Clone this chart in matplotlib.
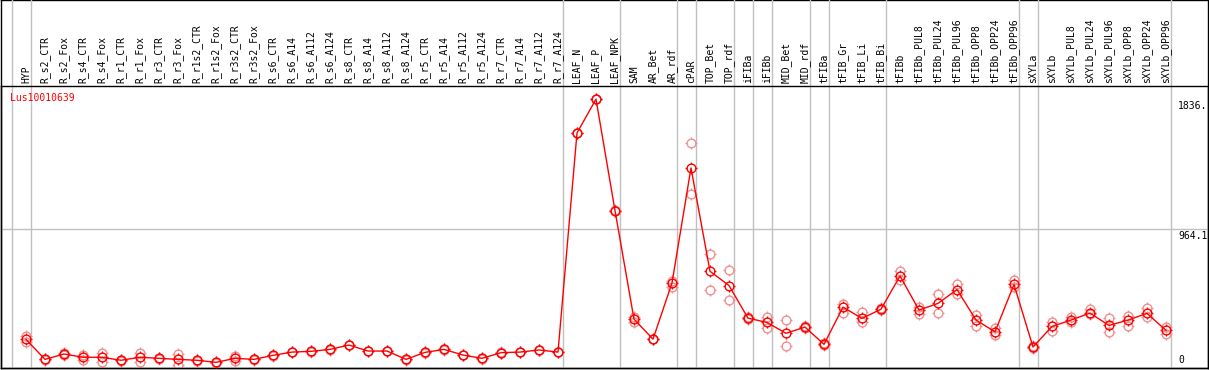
import numpy as np
import matplotlib
matplotlib.use("Agg")
import matplotlib.pyplot as plt
from matplotlib.path import Path
from matplotlib.markers import MarkerStyle

# sample names (x axis)
samples = ["HYP",
           "R_s2_CTR", "R_s2_Fox", "R_s4_CTR", "R_s4_Fox", "R_r1_CTR", "R_r1_Fox",
           "R_r3_CTR", "R_r3_Fox", "R_r1s2_CTR", "R_r1s2_Fox", "R_r3s2_CTR", "R_r3s2_Fox",
           "R_s6_CTR", "R_s6_A14", "R_s6_A112", "R_s6_A124", "R_s8_CTR", "R_s8_A14",
           "R_s8_A112", "R_s8_A124", "R_r5_CTR", "R_r5_A14", "R_r5_A112", "R_r5_A124",
           "R_r7_CTR", "R_r7_A14", "R_r7_A112", "R_r7_A124",
           "LEAF_N", "LEAF_P", "LEAF_NPK",
           "SAM", "AR_Bet", "AR_rdf",
           "cPAR",
           "TOP_Bet", "TOP_rdf",
           "iFIBa",
           "iFIBb",
           "MID_Bet", "MID_rdf",
           "tFIBa",
           "tFIB_Gr", "tFIB_Li", "tFIB_Bi",
           "tFIBb", "tFIBb_PUL8", "tFIBb_PUL24", "tFIBb_PUL96", "tFIBb_OPP8",
           "tFIBb_OPP24", "tFIBb_OPP96",
           "sXYLa",
           "sXYLb", "sXYLb_PUL8", "sXYLb_PUL24", "sXYLb_PUL96", "sXYLb_OPP8",
           "sXYLb_OPP24", "sXYLb_OPP96"]

# last sample index of each group (separator drawn after it), -1 = before first
group_ends = [-1, 0, 28, 31, 34, 35, 37, 38, 39, 41, 42, 45, 52, 53, 60]

# mean expression
means = [222,
         88, 124, 102, 102, 82, 102, 95, 88, 82, 68, 95, 88,
         115, 137, 142, 155, 184, 144, 144, 88, 135, 155, 117, 95,
         133, 137, 151, 137,
         1609, 1836, 1088,
         358, 224, 601,
         1374,
         680, 584,
         365,
         336,
         263, 305,
         189,
         439, 363, 425,
         648, 419, 464, 557, 352, 273, 591,
         171,
         309, 352, 399, 316, 352, 397, 283]

# replicate values
reps = [[246, 205],
        [92, 84], [128, 120], [117, 84], [129, 72], [84, 80], [129, 72],
        [97, 93], [124, 52], [84, 80], [70, 66], [111, 80], [90, 86],
        [117, 113], [139, 135], [144, 140], [157, 153], [186, 182], [146, 142],
        [146, 142], [90, 86], [137, 133], [157, 153], [119, 115], [97, 93],
        [135, 131], [139, 135], [153, 149], [139, 135],
        [1611, 1607], [1838, 1834], [1090, 1086],
        [374, 340], [226, 222], [613, 575],
        [1542, 1200],
        [798, 557], [685, 484],
        [370, 360],
        [374, 300],
        [352, 175], [312, 298],
        [195, 183],
        [463, 401], [403, 336], [430, 420],
        [682, 620], [441, 392], [530, 397], [591, 530], [385, 311],
        [296, 251], [620, 571],
        [175, 167],
        [340, 278], [370, 338], [423, 392], [363, 273], [378, 311],
        [430, 374], [303, 258]]

gene = "Lus10010639"
y_ticks = [0, 964.1, 1836]
y_tick_labels = ["0", "964.1", "1836."]

W, H = 1209, 370
fig = plt.figure(figsize=(W / 100, H / 100), dpi=100)

# outer frame
frame = fig.add_axes([1 / W, 2 / H, 1207 / W, 368 / H])
frame.set_xticks([])
frame.set_yticks([])
frame.patch.set_alpha(0)
for s in frame.spines.values():
    s.set_linewidth(1.0)
    s.set_color("black")

top_px, bot_px = 85.5, 368
ax = fig.add_axes([1 / W, (H - bot_px) / H, 1207 / W, (bot_px - top_px) / H])
ax.patch.set_alpha(0)
ax.set_xticks([])
ax.set_yticks([])
for s in ax.spines.values():
    s.set_linewidth(1.0)
    s.set_color("black")

# top of plot = 1.05 * max, middle gridline = half of that; zero falls just below the frame
ymax = max(means) * 1.05
ax.set_ylim(30, ymax)
x = np.arange(len(samples))
ax.set_xlim((1 - 26) / 19, (1208 - 26) / 19)

ext = (bot_px - 0) / (bot_px - top_px)
for g in group_ends:
    ax.axvline(g + 0.25, ymin=0, ymax=ext, color="#c0c0c0", lw=1, clip_on=False, zorder=0)
ax.axhline(y_ticks[1], color="#c0c0c0", lw=1, zorder=0)

# four small ticks around each circle
t = 1.3
ticks = MarkerStyle(Path([(0, 1), (0, t), (0, -1), (0, -t), (1, 0), (t, 0), (-1, 0), (-t, 0)],
                         [Path.MOVETO, Path.LINETO] * 4))

def marks(xs, ys, col, z):
    ax.plot(xs, ys, linestyle="none", marker="o", ms=6.3, mfc="none", mec=col,
            mew=1.0, zorder=z)
    ax.plot(xs, ys, linestyle="none", marker=ticks, ms=8.2, mfc="none", mec=col,
            mew=0.9, zorder=z)

for i, r in enumerate(reps):
    marks([i] * len(r), r, "#f09090", 2)
ax.plot(x, means, color="red", lw=1, zorder=3)
marks(x, means, "red", 4)

mono = "DejaVu Sans Mono"
xt = ax.get_xaxis_transform()
for i, lab in enumerate(samples):
    ax.text(i, 1.008, lab, transform=xt, rotation=90, ha="center", va="bottom",
            fontsize=7, family=mono)

ax.text(9 / 1207, 0.974, gene, transform=ax.transAxes, color="red", fontsize=7,
        family=mono, va="top", ha="left")

yt = ax.get_yaxis_transform()
for v, lab in zip(y_ticks, y_tick_labels):
    if v == 0:
        ax.text(1177 / 1207, 0.012, lab, transform=ax.transAxes, fontsize=7,
                family=mono, va="bottom", ha="left")
    else:
        ax.annotate(lab, (1177 / 1207, v), xycoords=yt, xytext=(0, -2),
                    textcoords="offset pixels", fontsize=7, family=mono,
                    va="top", ha="left")

fig.savefig("out.png", dpi=100)
